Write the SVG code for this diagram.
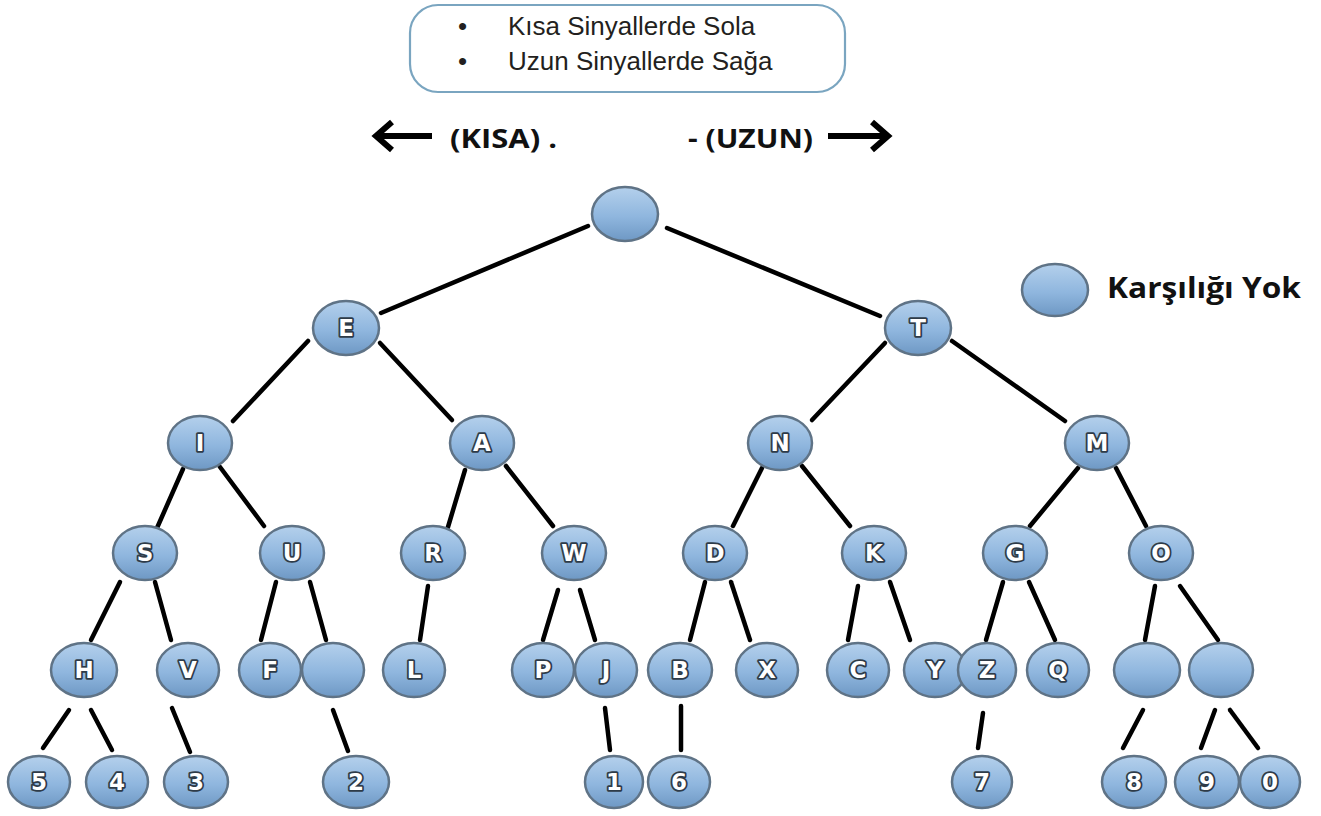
<svg xmlns="http://www.w3.org/2000/svg" width="1321" height="816" viewBox="0 0 1321 816">
<defs>
<linearGradient id="g" x1="0" y1="0" x2="0" y2="1">
<stop offset="0" stop-color="#b4d0ec"/>
<stop offset="0.55" stop-color="#8fb6de"/>
<stop offset="1" stop-color="#6e98c4"/>
</linearGradient>
</defs>
<style>
.n{fill:url(#g);stroke:#5f7386;stroke-width:2.5}
.t{font-family:"DejaVu Sans",sans-serif;font-weight:bold;font-size:23px;fill:#fff;stroke:#2e3b48;stroke-width:3.6;paint-order:stroke;stroke-linejoin:round;text-anchor:middle;dominant-baseline:central}
.c line{stroke:#000;stroke-width:4.5;stroke-linecap:round}
.bx{font-family:"Liberation Sans",Arial,sans-serif;font-size:26px;fill:#231f20}
.hd{font-family:"Open Sans","DejaVu Sans",sans-serif;font-weight:bold;font-size:26px;fill:#111}
.ar{fill:none;stroke:#000;stroke-width:6;stroke-linejoin:miter}
</style>
<rect width="1321" height="816" fill="#fff"/>
<g id="info">
<rect x="410" y="5" width="435" height="87" rx="28" fill="#fff" stroke="#7aa5c0" stroke-width="2.2"/>
<text class="bx" x="458" y="35">•</text>
<text class="bx" x="508" y="35">Kısa Sinyallerde Sola</text>
<text class="bx" x="458" y="70">•</text>
<text class="bx" x="508" y="70">Uzun Sinyallerde Sağa</text>
</g>
<g id="direction">
<path class="ar" d="M432,136 H380 M392,122 L376,136 L392,150"/>
<text class="hd" x="450" y="148" textLength="107" lengthAdjust="spacingAndGlyphs">(KISA) .</text>
<text class="hd" x="688" y="148" textLength="125" lengthAdjust="spacingAndGlyphs">- (UZUN)</text>
<path class="ar" d="M828,136 H884 M872,122 L888,136 L872,150"/>
</g>
<g id="legend">
<ellipse class="n" cx="1055" cy="290" rx="33" ry="26"/>
<text class="hd" x="1107" y="298" style="font-size:28px" textLength="194" lengthAdjust="spacingAndGlyphs">Karşılığı Yok</text>
</g>
<g id="connectors" class="c">
<line x1="588" y1="226" x2="381" y2="313"/>
<line x1="667" y1="228" x2="880" y2="316"/>
<line x1="308" y1="341" x2="233" y2="421"/>
<line x1="380" y1="343" x2="452" y2="420"/>
<line x1="885" y1="343" x2="812" y2="420"/>
<line x1="952" y1="341" x2="1065" y2="421"/>
<line x1="183" y1="469" x2="157" y2="528"/>
<line x1="220" y1="467" x2="264" y2="526"/>
<line x1="465" y1="470" x2="448" y2="527"/>
<line x1="506" y1="466" x2="553" y2="526"/>
<line x1="762" y1="468" x2="733" y2="526"/>
<line x1="802" y1="466" x2="850" y2="526"/>
<line x1="1078" y1="468" x2="1030" y2="526"/>
<line x1="1116" y1="468" x2="1146" y2="526"/>
<line x1="120" y1="582" x2="91" y2="640"/>
<line x1="155" y1="582" x2="171" y2="640"/>
<line x1="276" y1="582" x2="261" y2="640"/>
<line x1="310" y1="582" x2="326" y2="640"/>
<line x1="428" y1="586" x2="420" y2="640"/>
<line x1="558" y1="590" x2="543" y2="640"/>
<line x1="580" y1="590" x2="595" y2="640"/>
<line x1="705" y1="582" x2="690" y2="640"/>
<line x1="731" y1="582" x2="750" y2="640"/>
<line x1="858" y1="586" x2="848" y2="640"/>
<line x1="890" y1="582" x2="910" y2="640"/>
<line x1="1003" y1="582" x2="986" y2="640"/>
<line x1="1029" y1="582" x2="1055" y2="640"/>
<line x1="1155" y1="586" x2="1145" y2="640"/>
<line x1="1180" y1="586" x2="1218" y2="640"/>
<line x1="69" y1="710" x2="43" y2="748"/>
<line x1="91" y1="710" x2="112" y2="750"/>
<line x1="172" y1="708" x2="190" y2="752"/>
<line x1="333" y1="710" x2="348" y2="751"/>
<line x1="605" y1="708" x2="610" y2="750"/>
<line x1="681" y1="706" x2="681" y2="750"/>
<line x1="983" y1="713" x2="978" y2="748"/>
<line x1="1143" y1="710" x2="1123" y2="748"/>
<line x1="1215" y1="710" x2="1201" y2="748"/>
<line x1="1230" y1="710" x2="1258" y2="748"/>
</g>
<g id="root"><ellipse class="n" cx="625" cy="214" rx="33" ry="27"/></g>
<g id="nE"><ellipse class="n" cx="346" cy="328" rx="33" ry="27"/><text class="t" x="346" y="328">E</text></g>
<g id="nT"><ellipse class="n" cx="918" cy="328" rx="33" ry="27"/><text class="t" x="918" y="328">T</text></g>
<g id="nI"><ellipse class="n" cx="200" cy="443" rx="32" ry="27"/><text class="t" x="200" y="443">I</text></g>
<g id="nA"><ellipse class="n" cx="482" cy="443" rx="32" ry="27"/><text class="t" x="482" y="443">A</text></g>
<g id="nN"><ellipse class="n" cx="780" cy="443" rx="32" ry="27"/><text class="t" x="780" y="443">N</text></g>
<g id="nM"><ellipse class="n" cx="1097" cy="443" rx="32" ry="27"/><text class="t" x="1097" y="443">M</text></g>
<g id="nS"><ellipse class="n" cx="145" cy="553" rx="32" ry="27"/><text class="t" x="145" y="553">S</text></g>
<g id="nU"><ellipse class="n" cx="292" cy="553" rx="32" ry="27"/><text class="t" x="292" y="553">U</text></g>
<g id="nR"><ellipse class="n" cx="433" cy="553" rx="32" ry="27"/><text class="t" x="433" y="553">R</text></g>
<g id="nW"><ellipse class="n" cx="574" cy="553" rx="32" ry="27"/><text class="t" x="574" y="553">W</text></g>
<g id="nD"><ellipse class="n" cx="715" cy="553" rx="32" ry="27"/><text class="t" x="715" y="553">D</text></g>
<g id="nK"><ellipse class="n" cx="874" cy="553" rx="32" ry="27"/><text class="t" x="874" y="553">K</text></g>
<g id="nG"><ellipse class="n" cx="1015" cy="553" rx="32" ry="27"/><text class="t" x="1015" y="553">G</text></g>
<g id="nO"><ellipse class="n" cx="1161" cy="553" rx="32" ry="27"/><text class="t" x="1161" y="553">O</text></g>
<g id="nH"><ellipse class="n" cx="84" cy="670" rx="33" ry="27"/><text class="t" x="84" y="670">H</text></g>
<g id="nV"><ellipse class="n" cx="188" cy="670" rx="31" ry="27"/><text class="t" x="188" y="670">V</text></g>
<g id="nF"><ellipse class="n" cx="270" cy="670" rx="31" ry="27"/><text class="t" x="270" y="670">F</text></g>
<g id="nU2"><ellipse class="n" cx="333" cy="670" rx="31" ry="27"/></g>
<g id="nL"><ellipse class="n" cx="414" cy="670" rx="31" ry="27"/><text class="t" x="414" y="670">L</text></g>
<g id="nP"><ellipse class="n" cx="543" cy="670" rx="31" ry="27"/><text class="t" x="543" y="670">P</text></g>
<g id="nJ"><ellipse class="n" cx="606" cy="670" rx="31" ry="27"/><text class="t" x="606" y="670">J</text></g>
<g id="nB"><ellipse class="n" cx="680" cy="670" rx="32" ry="27"/><text class="t" x="680" y="670">B</text></g>
<g id="nX"><ellipse class="n" cx="767" cy="670" rx="31" ry="27"/><text class="t" x="767" y="670">X</text></g>
<g id="nC"><ellipse class="n" cx="858" cy="670" rx="31" ry="27"/><text class="t" x="858" y="670">C</text></g>
<g id="nY"><ellipse class="n" cx="935" cy="670" rx="31" ry="27"/><text class="t" x="935" y="670">Y</text></g>
<g id="nZ"><ellipse class="n" cx="987" cy="670" rx="29" ry="27"/><text class="t" x="987" y="670">Z</text></g>
<g id="nQ"><ellipse class="n" cx="1058" cy="670" rx="31" ry="27"/><text class="t" x="1058" y="670">Q</text></g>
<g id="nO1"><ellipse class="n" cx="1147" cy="670" rx="33" ry="27"/></g>
<g id="nO2"><ellipse class="n" cx="1221" cy="670" rx="32" ry="27"/></g>
<g id="n5"><ellipse class="n" cx="39" cy="782" rx="31" ry="26"/><text class="t" x="39" y="782">5</text></g>
<g id="n4"><ellipse class="n" cx="117" cy="782" rx="31" ry="26"/><text class="t" x="117" y="782">4</text></g>
<g id="n3"><ellipse class="n" cx="196" cy="782" rx="32" ry="26"/><text class="t" x="196" y="782">3</text></g>
<g id="n2"><ellipse class="n" cx="356" cy="782" rx="33" ry="26"/><text class="t" x="356" y="782">2</text></g>
<g id="n1"><ellipse class="n" cx="614" cy="782" rx="29" ry="26"/><text class="t" x="614" y="782">1</text></g>
<g id="n6"><ellipse class="n" cx="679" cy="782" rx="31" ry="26"/><text class="t" x="679" y="782">6</text></g>
<g id="n7"><ellipse class="n" cx="982" cy="782" rx="30" ry="26"/><text class="t" x="982" y="782">7</text></g>
<g id="n8"><ellipse class="n" cx="1134" cy="782" rx="32" ry="26"/><text class="t" x="1134" y="782">8</text></g>
<g id="n9"><ellipse class="n" cx="1207" cy="782" rx="32" ry="26"/><text class="t" x="1207" y="782">9</text></g>
<g id="n0"><ellipse class="n" cx="1270" cy="782" rx="30" ry="26"/><text class="t" x="1270" y="782">0</text></g>
</svg>
